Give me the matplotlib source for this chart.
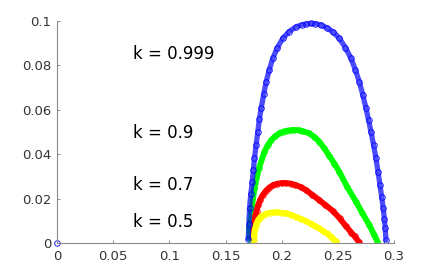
import matplotlib
matplotlib.use('Agg')
from matplotlib import pyplot as plt

blue_x = [0.0, 0.1703, 0.1708, 0.1714, 0.1725, 0.1738, 0.1748, 0.1758, 0.1772, 0.1788, 0.1802,
          0.1818, 0.1840, 0.1862, 0.1890, 0.1921, 0.1962, 0.2010, 0.2065, 0.2129, 0.2180,
          0.2220, 0.2260, 0.2300, 0.2350, 0.2400, 0.2460, 0.2513, 0.2568, 0.2617, 0.2656,
          0.2691, 0.2722, 0.2750, 0.2773, 0.2795, 0.2818, 0.2839, 0.2858, 0.2875, 0.2890,
          0.2904, 0.2914, 0.2922, 0.2928]
blue_y = [0.0, 0.0020, 0.0084, 0.0158, 0.0220, 0.0276, 0.0330, 0.0383, 0.0440, 0.0502, 0.0560,
          0.0608, 0.0670, 0.0727, 0.0780, 0.0832, 0.0880, 0.0922, 0.0952, 0.0974, 0.0983,
          0.0987, 0.0989, 0.0988, 0.0982, 0.0970, 0.0950, 0.0922, 0.0880, 0.0832, 0.0780,
          0.0727, 0.0668, 0.0608, 0.0555, 0.0501, 0.0442, 0.0382, 0.0320, 0.0261, 0.0208,
          0.0156, 0.0110, 0.0066, 0.0014]
green_x = [0.1715, 0.1712, 0.1729, 0.1758, 0.1797, 0.1847, 0.1875, 0.1907, 0.1945, 0.1980,
           0.2015, 0.2050, 0.2080, 0.2114, 0.2150, 0.2180, 0.2247, 0.2290, 0.2336, 0.2380,
           0.2425, 0.2470, 0.2513, 0.2584, 0.2662, 0.2718, 0.2780, 0.2824, 0.2853]
green_y = [0.0020, 0.0066, 0.0141, 0.0246, 0.0336, 0.0411, 0.0440, 0.0464, 0.0482, 0.0494,
           0.0502, 0.0506, 0.0508, 0.0509, 0.0508, 0.0505, 0.0494, 0.0478, 0.0456, 0.0426,
           0.0392, 0.0357, 0.0321, 0.0252, 0.0186, 0.0135, 0.0081, 0.0036, 0.0006]
red_x = [0.1743, 0.1748, 0.1752, 0.1758, 0.1765, 0.1776, 0.1790, 0.1808, 0.1830, 0.1858,
         0.1890, 0.1925, 0.1960, 0.2000, 0.2040, 0.2080, 0.2120, 0.2170, 0.2218, 0.2270,
         0.2330, 0.2390, 0.2454, 0.2515, 0.2573, 0.2620, 0.2650, 0.2690]
red_y = [0.0020, 0.0045, 0.0070, 0.0095, 0.0120, 0.0146, 0.0170, 0.0194, 0.0215, 0.0234,
         0.0250, 0.0261, 0.0267, 0.0270, 0.0270, 0.0268, 0.0262, 0.0252, 0.0238, 0.0218,
         0.0195, 0.0171, 0.0145, 0.0112, 0.0075, 0.0047, 0.0030, 0.0003]
yellow_x = [0.1750, 0.1752, 0.1755, 0.1762, 0.1770, 0.1782, 0.1795, 0.1815, 0.1840, 0.1870,
            0.1900, 0.1932, 0.1966, 0.2000, 0.2040, 0.2085, 0.2130, 0.2175, 0.2220, 0.2260,
            0.2300, 0.2335, 0.2365, 0.2400, 0.2430, 0.2460, 0.2484]
yellow_y = [0.0010, 0.0028, 0.0045, 0.0063, 0.0080, 0.0095, 0.0108, 0.0119, 0.0127, 0.0133,
            0.0136, 0.0138, 0.0138, 0.0136, 0.0133, 0.0126, 0.0118, 0.0108, 0.0098, 0.0087,
            0.0076, 0.0066, 0.0056, 0.0044, 0.0032, 0.0020, 0.0008]

labels = ['k = 0.999', 'k = 0.9', 'k = 0.7', 'k = 0.5']
label_y = [0.0829, 0.0473, 0.0239, 0.0072]
x_ticks = [0, 0.05, 0.1, 0.15, 0.2, 0.25, 0.3]
x_tick_labels = ['0', '0.05', '0.1', '0.15', '0.2', '0.25', '0.3']
y_ticks = [0, 0.02, 0.04, 0.06, 0.08, 0.1]
y_tick_labels = ['0', '0.02', '0.04', '0.06', '0.08', '0.1']


def main():
    fig = plt.figure(figsize=(4.36, 2.73), dpi=100)
    ax = fig.add_axes([57 / 436, 30 / 273, 337 / 436, 222 / 273])

    # thick bands for the dense curves, circles on top
    for xs, ys, col in [(green_x, green_y, '#00ff00'), (red_x, red_y, '#ff0000'),
                        (yellow_x, yellow_y, '#ffff00')]:
        ax.plot(xs, ys, '-', color=col, lw=4.2, solid_capstyle='round', solid_joinstyle='round')
        ax.plot(xs, ys, 'o', color=col, mfc='none', ms=4, mew=0.6)
    # blue: slightly lighter band so the circles stay visible on the steep sides
    ax.plot(blue_x[1:], blue_y[1:], '-', color='#0000ff', lw=3.8, alpha=0.7,
            solid_capstyle='round', solid_joinstyle='round')
    ax.plot(blue_x, blue_y, 'o', color='#0000ff', mfc='none', ms=4, mew=0.6, clip_on=False)

    for txt, yy in zip(labels, label_y):
        ax.text(0.0675, yy, txt, fontsize=12, family='DejaVu Sans', va='baseline', ha='left')

    ax.set_xlim(0, 0.3)
    ax.set_ylim(0, 0.1)
    ax.set_xticks(x_ticks)
    ax.set_xticklabels(x_tick_labels)
    ax.set_yticks(y_ticks)
    ax.set_yticklabels(y_tick_labels)
    for s in ['top', 'right']:
        ax.spines[s].set_visible(False)
    for s in ['left', 'bottom']:
        ax.spines[s].set_color('#8c8c8c')
        ax.spines[s].set_linewidth(0.8)
    ax.tick_params(direction='in', length=2.5, width=0.7, color='#8c8c8c',
                   labelsize=9.5, labelcolor='#333333')
    ax.tick_params(axis='x', pad=5)
    ax.tick_params(axis='y', pad=4)

    fig.savefig('out.png', dpi=100)


if __name__ == '__main__':
    main()
